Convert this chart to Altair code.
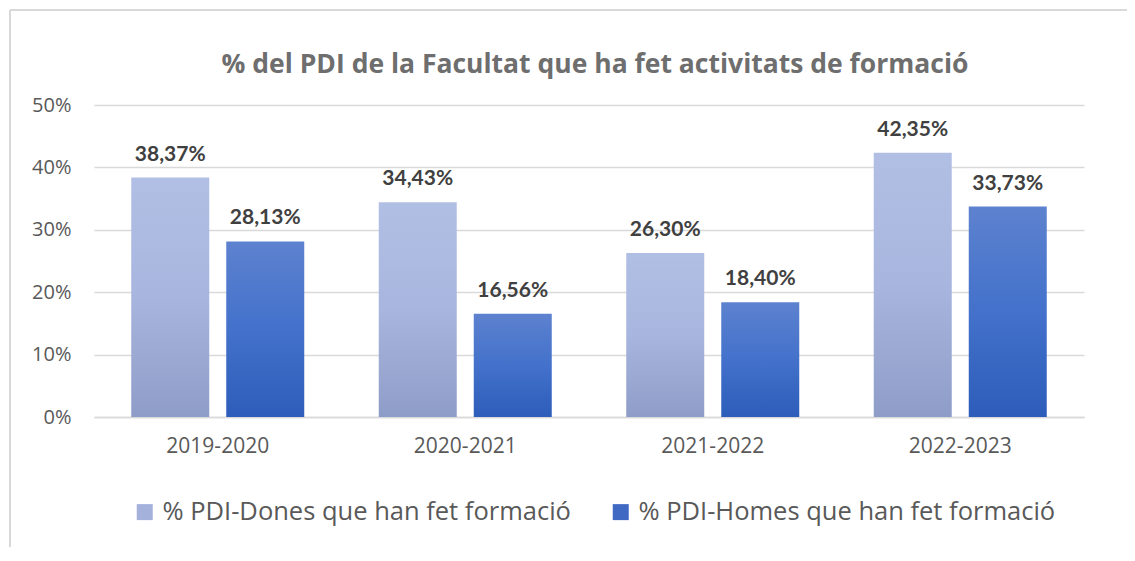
import altair as alt
import pandas as pd

years = ["2019-2020", "2020-2021", "2021-2022", "2022-2023"]
series = ["% PDI-Dones que han fet formació", "% PDI-Homes que han fet formació"]
dones = [38.37, 34.43, 26.30, 42.35]
homes = [28.13, 16.56, 18.40, 33.73]
y_ticks = [0, 10, 20, 30, 40, 50]
title_text = "% del PDI de la Facultat que ha fet activitats de formació"

rows = []
for y, v in zip(years, dones):
    rows.append({"any": y, "serie": series[0], "valor": v})
for y, v in zip(years, homes):
    rows.append({"any": y, "serie": series[1], "valor": v})
df = pd.DataFrame(rows)

FONT = "Open Sans"
BFONT = "Lato"
grad_light = alt.Gradient(gradient="linear", x1=0, y1=0, x2=0, y2=1,
                          stops=[alt.GradientStop(color="#B2BFE4", offset=0),
                                 alt.GradientStop(color="#A8B5DE", offset=0.5),
                                 alt.GradientStop(color="#8E9DC8", offset=1)])
grad_dark = alt.Gradient(gradient="linear", x1=0, y1=0, x2=0, y2=1,
                         stops=[alt.GradientStop(color="#5D82CF", offset=0),
                                alt.GradientStop(color="#4371CB", offset=0.5),
                                alt.GradientStop(color="#2D5DBA", offset=1)])

x_enc = alt.X("any:N", sort=years,
              scale=alt.Scale(paddingInner=0, paddingOuter=0),
              axis=alt.Axis(title=None, labelAngle=0, ticks=False, domain=True,
                            domainColor="#D9D9D9", domainWidth=1.5,
                            labelFont=FONT, labelFontSize=21, labelColor="#595959",
                            labelPadding=18))
xo_enc = alt.XOffset("serie:N", sort=series,
                     scale=alt.Scale(domain=series, paddingInner=0.179, paddingOuter=0.392))
y_enc = alt.Y("valor:Q", scale=alt.Scale(domain=[0, 50], nice=False),
              axis=alt.Axis(title=None, values=y_ticks, labelExpr="datum.value + '%'",
                            ticks=False, domain=False, grid=True, gridColor="#D9D9D9",
                            gridWidth=1.3, labelFont=FONT, labelFontSize=20,
                            labelColor="#595959", labelPadding=23))

base = alt.Chart(df)

bars_d = base.transform_filter(alt.datum.serie == series[0]).mark_bar(
    color=grad_light).encode(x=x_enc, xOffset=xo_enc, y=y_enc)
bars_h = base.transform_filter(alt.datum.serie == series[1]).mark_bar(
    color=grad_dark).encode(x=x_enc, xOffset=xo_enc, y=y_enc)

labels = base.transform_calculate(
    lbl="replace(format(datum.valor, '.2f'), '.', ',') + '%'"
).mark_text(font=BFONT, fontSize=21, fontWeight="bold", color="#404040",
            baseline="alphabetic", dy=-17).encode(
    x=x_enc, xOffset=xo_enc, y=y_enc, text="lbl:N")

legend_layer = base.mark_point(shape="square", opacity=0, filled=True).encode(
    x=x_enc, xOffset=xo_enc, y=y_enc,
    color=alt.Color("serie:N", sort=series,
                    scale=alt.Scale(domain=series, range=["#A3B1DB", "#4069C4"]),
                    legend=alt.Legend(title=None, orient="none", direction="horizontal",
                                      legendX=38, legendY=394,
                                      symbolType="square", symbolSize=256,
                                      symbolOpacity=1, symbolStrokeWidth=0,
                                      labelFont=FONT, labelFontSize=25.5,
                                      labelColor="#595959", labelOffset=5,
                                      columnPadding=37, labelLimit=700)))

one = pd.DataFrame({"t": [title_text]})
title_mark = alt.Chart(one).mark_text(font=FONT, fontSize=26.5, fontWeight="bold",
                                      color="#6E6E6E", baseline="alphabetic",
                                      align="center").encode(
    x=alt.value(501), y=alt.value(-32), text="t:N")

border_top = alt.Chart(one).mark_rule(color="#D9D9D9", strokeWidth=2).encode(
    x=alt.value(-84), x2=alt.value(1033), y=alt.value(-95))
border_left = alt.Chart(one).mark_rule(color="#D9D9D9", strokeWidth=2).encode(
    x=alt.value(-84), y=alt.value(-95), y2=alt.value(460))

chart = alt.layer(border_top, border_left, title_mark, bars_d, bars_h, labels,
                  legend_layer).properties(
    width=990, height=312,
    autosize=alt.AutoSizeParams(type="none"),
    padding={"left": 86, "top": 97, "right": 43, "bottom": 130},
).configure_view(stroke=None).configure(background="white") if False else \
    alt.layer(border_top, border_left, title_mark, bars_d, bars_h, labels,
              legend_layer).properties(
    width=990, height=312,
    background="#FFFFFF",
    autosize=alt.AutoSizeParams(type="none"),
    padding={"left": 86, "top": 97, "right": 43, "bottom": 130},
).configure_view(stroke=None, strokeWidth=0)

chart.save("out.html", embed_options={"renderer": "svg", "actions": False})
